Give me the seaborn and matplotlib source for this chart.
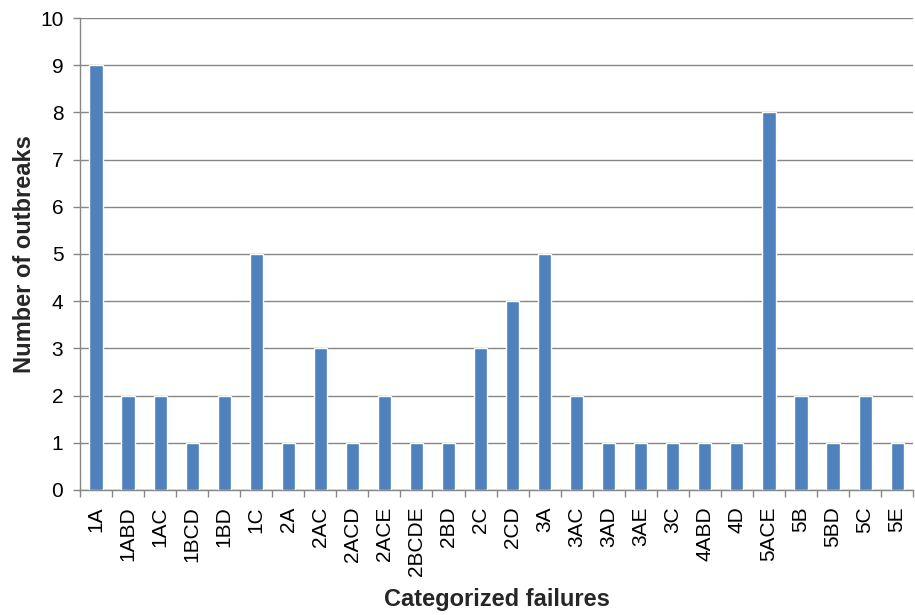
import numpy as np
import pandas as pd
import matplotlib
matplotlib.use("Agg")
import matplotlib.pyplot as plt
import seaborn as sns

categories = ["1A", "1ABD", "1AC", "1BCD", "1BD", "1C", "2A", "2AC", "2ACD", "2ACE",
              "2BCDE", "2BD", "2C", "2CD", "3A", "3AC", "3AD", "3AE", "3C", "4ABD",
              "4D", "5ACE", "5B", "5BD", "5C", "5E"]
outbreaks = [9, 2, 2, 1, 2, 5, 1, 3, 1, 2,
             1, 1, 3, 4, 5, 2, 1, 1, 1, 1,
             1, 8, 2, 1, 2, 1]

sns.set_theme(style="white")
plt.rcParams['font.family'] = ['Liberation Sans', 'DejaVu Sans']

df = pd.DataFrame({"Category": categories, "Outbreaks": outbreaks})

fig = plt.figure(figsize=(9.15, 6.15), dpi=100)
ax = fig.add_axes([0.0874, 0.2033, 0.9106, 0.7674])

sns.barplot(data=df, x="Category", y="Outbreaks", order=categories,
            color="#4F81BD", saturation=1, width=0.41, ax=ax, zorder=3)

ax.set_ylim(0, 10)
ax.set_xlim(-0.5, len(categories) - 0.5)
ax.set_yticks(range(0, 11))
ax.yaxis.grid(True, color="#868686", linewidth=1.0, zorder=0)
ax.set_axisbelow(True)

for s in ["top", "right"]:
    ax.spines[s].set_visible(False)
for s in ["left", "bottom"]:
    ax.spines[s].set_color("#868686")
    ax.spines[s].set_linewidth(1.0)

# tick marks between categories
ax.set_xticks(range(len(categories)))
ax.set_xticklabels(categories, fontsize=15, rotation=90, color="black")
ax.set_xticks(np.arange(-0.5, len(categories), 1.0), minor=True)
ax.tick_params(axis="x", which="major", length=0, pad=12)
ax.tick_params(axis="x", which="minor", length=5, color="#868686", width=1, direction="out",
               bottom=True)
ax.tick_params(axis="y", which="major", length=5, color="#868686", width=1, direction="out",
               left=True, labelsize=15, labelcolor="black", pad=7)

ax.set_xlabel("Categorized failures", fontsize=17, fontweight="bold")
ax.set_ylabel("Number of outbreaks", fontsize=17, fontweight="bold")
ax.xaxis.set_label_coords(0.5, -0.208)
ax.yaxis.set_label_coords(-0.053, 0.5)

fig.savefig("out.png", dpi=100)
